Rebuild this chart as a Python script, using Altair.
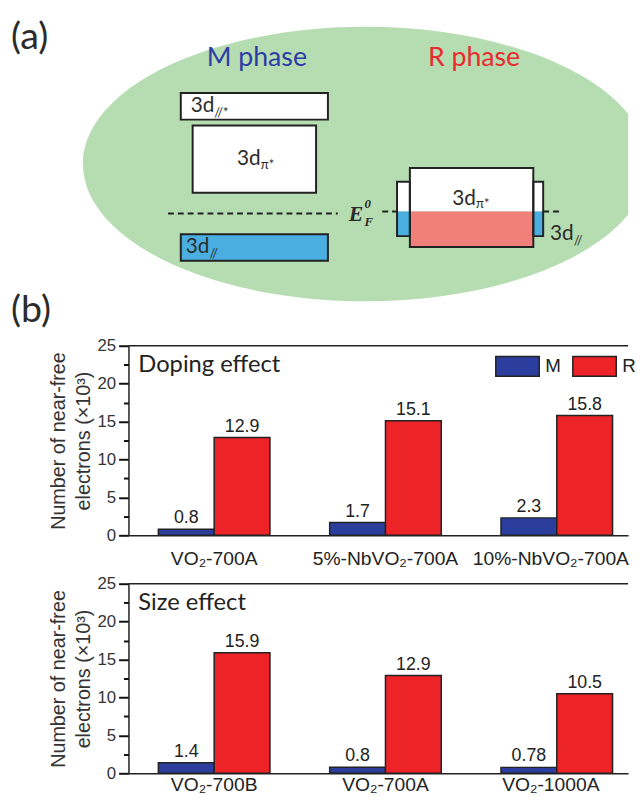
import altair as alt
import pandas as pd

# ---------------- panel (b) data ----------------
phases = ["M", "R"]
phase_colors = ["#2b3e9e", "#ec2327"]

doping_samples = ["VO₂-700A", "5%-NbVO₂-700A", "10%-NbVO₂-700A"]
doping_M = [0.8, 1.7, 2.3]
doping_R = [12.9, 15.1, 15.8]
doping_M_text = ["0.8", "1.7", "2.3"]
doping_R_text = ["12.9", "15.1", "15.8"]

size_samples = ["VO₂-700B", "VO₂-700A", "VO₂-1000A"]
size_M = [1.4, 0.8, 0.78]
size_R = [15.9, 12.9, 10.5]
size_M_text = ["1.4", "0.8", "0.78"]
size_R_text = ["15.9", "12.9", "10.5"]

y_major_ticks = [0, 5, 10, 15, 20, 25]
y_minor_ticks = [2.5, 7.5, 12.5, 17.5, 22.5]
y_title = ["Number of near-free", "electrons (×10³)"]

# ---------------- panel (a) schematic (page pixel layout) ----------------
ellipse_center = [370, 161]
ellipse_path = "M 266 -51 A 286 139 0 1 0 266 51 Z"
ellipse_color = "#b6dcb1"

box_x1 = [183, 195, 183, 402, 402, 540, 540, 415, 415]
box_x2 = [332, 320, 332, 415, 415, 550, 550, 540, 540]
box_y1 = [89, 122, 232, 179, 209, 179, 209, 165, 209]
box_y2 = [116, 190, 259, 209, 234, 209, 234, 209, 245]
box_fill = ["#ffffff", "#ffffff", "#4aafe0", "#ffffff", "#4aafe0",
            "#ffffff", "#4aafe0", "#ffffff", "#f2807a"]

outline_x1 = [183, 195, 183, 402, 540, 415]
outline_x2 = [332, 320, 332, 415, 550, 540]
outline_y1 = [89, 122, 232, 179, 179, 165]
outline_y2 = [116, 190, 259, 234, 234, 245]

dash_x1 = [170, 387, 550]
dash_x2 = [342, 402, 568]
dash_y = [211, 209, 209]

left_text = ["(a)", "(b)", "3d", "//*", "3d", "π*", "3d", "//", "3d", "π*", "3d", "//"]
left_x = [11, 11, 193, 217, 240, 264, 188, 212, 458, 482, 557, 581]
left_y = [44, 321, 108, 113, 162, 166, 251, 256, 202, 206, 238, 243]
left_size = [38, 38, 21, 13, 21, 13, 21, 13, 21, 13, 21, 13]

phase_text = ["M phase", "R phase"]
phase_x = [260, 480]
phase_y = [62, 62]
phase_text_colors = ["#2e3ca8", "#ea2a2e"]

ef_text = ["E", "F", "0"]
ef_x = [353, 369, 369]
ef_y = [219, 224, 206]
ef_size = [22, 13, 13]

PAGE_X = [8, 636]
PAGE_Y = [8, 330]
VIEW_W = 506
DIAG_H = PAGE_Y[1] - PAGE_Y[0]
INK = "#222222"

xs = alt.Scale(domain=PAGE_X, range=[-122, VIEW_W])
ys = alt.Scale(domain=PAGE_Y, range=[0, DIAG_H])

bg = alt.Chart(pd.DataFrame({"x1": [PAGE_X[0]], "x2": [PAGE_X[1]],
                             "y1": [PAGE_Y[0]], "y2": [PAGE_Y[1]]})).mark_rect(
    fill="white").encode(
    x=alt.X("x1:Q", scale=xs, axis=None), x2="x2:Q",
    y=alt.Y("y1:Q", scale=ys, axis=None), y2="y2:Q")

ell = alt.Chart(pd.DataFrame({"x": [ellipse_center[0]], "y": [ellipse_center[1]]})).mark_point(
    shape=ellipse_path, size=4, filled=True, fill=ellipse_color, opacity=1, strokeWidth=0).encode(
    x=alt.X("x:Q", scale=xs, axis=None), y=alt.Y("y:Q", scale=ys, axis=None))

fills = alt.Chart(pd.DataFrame({"x1": box_x1, "x2": box_x2, "y1": box_y1, "y2": box_y2,
                                "f": box_fill})).mark_rect(strokeWidth=0).encode(
    x=alt.X("x1:Q", scale=xs, axis=None), x2="x2:Q",
    y=alt.Y("y1:Q", scale=ys, axis=None), y2="y2:Q",
    fill=alt.Fill("f:N", scale=None))

outlines = alt.Chart(pd.DataFrame({"x1": outline_x1, "x2": outline_x2,
                                   "y1": outline_y1, "y2": outline_y2})).mark_rect(
    fillOpacity=0, stroke=INK, strokeWidth=2).encode(
    x=alt.X("x1:Q", scale=xs, axis=None), x2="x2:Q",
    y=alt.Y("y1:Q", scale=ys, axis=None), y2="y2:Q")

dashes = alt.Chart(pd.DataFrame({"x1": dash_x1, "x2": dash_x2, "y": dash_y})).mark_rule(
    stroke=INK, strokeWidth=2, strokeDash=[6, 4]).encode(
    x=alt.X("x1:Q", scale=xs, axis=None), x2="x2:Q",
    y=alt.Y("y:Q", scale=ys, axis=None))

ltexts = alt.Chart(pd.DataFrame({"t": left_text, "x": left_x, "y": left_y, "s": left_size})).mark_text(
    align="left", baseline="alphabetic", font="Lato", color="#2b2b2b").encode(
    x=alt.X("x:Q", scale=xs, axis=None), y=alt.Y("y:Q", scale=ys, axis=None),
    text="t:N", size=alt.Size("s:Q", scale=None))

ptexts = alt.Chart(pd.DataFrame({"t": phase_text, "x": phase_x, "y": phase_y,
                                 "c": phase_text_colors})).mark_text(
    align="center", baseline="alphabetic", font="Lato", fontSize=27).encode(
    x=alt.X("x:Q", scale=xs, axis=None), y=alt.Y("y:Q", scale=ys, axis=None),
    text="t:N", color=alt.Color("c:N", scale=None))

etexts = alt.Chart(pd.DataFrame({"t": ef_text, "x": ef_x, "y": ef_y, "s": ef_size})).mark_text(
    align="left", baseline="alphabetic", font="Liberation Serif", fontStyle="italic",
    fontWeight="bold", color="#2b2b2b").encode(
    x=alt.X("x:Q", scale=xs, axis=None), y=alt.Y("y:Q", scale=ys, axis=None),
    text="t:N", size=alt.Size("s:Q", scale=None))

diagram = alt.layer(bg, ell, fills, outlines, dashes, ltexts, ptexts, etexts).properties(
    width=VIEW_W, height=DIAG_H)


def bar_panel(samples, mv, rv, mt, rt, tag, height, label_pad, legend):
    rows = []
    for i, s in enumerate(samples):
        rows.append({"sample": s, "phase": "M", "value": mv[i], "label": mt[i]})
        rows.append({"sample": s, "phase": "R", "value": rv[i], "label": rt[i]})
    df = pd.DataFrame(rows)

    yscale = alt.Scale(domain=[0, 25], nice=False)
    last = samples[-1]
    x = alt.X("sample:N", sort=samples,
              scale=alt.Scale(paddingInner=0.3487, paddingOuter=0.1326, align=0.658),
              axis=alt.Axis(title=None, labelAngle=0, ticks=False, labelFontSize=19.5,
                            labelPadding=label_pad, labelColor=INK, domainColor=INK,
                            domainWidth=1.5, labelFont="Liberation Sans",
                            labelOffset={"condition": {"test": f"datum.value === '{last}'",
                                                       "value": -6}, "value": 0}))
    xo = alt.XOffset("phase:N", sort=phases, scale=alt.Scale(paddingInner=0, paddingOuter=0))
    y = alt.Y("value:Q", scale=yscale,
              axis=alt.Axis(orient="left", values=y_major_ticks, labelOverlap=False,
                            ticks=True, tickSize=10,
                            tickColor="#111111", tickWidth=2, tickOpacity=1,
                            domainColor=INK, domainWidth=1.5,
                            labelFontSize=17, labelColor="#333333", labelPadding=3,
                            labelFont="Liberation Sans", grid=False,
                            title=y_title, titleFontSize=20, titleFontWeight="normal",
                            titleColor="#333333", titlePadding=4, titleLineHeight=25,
                            titleFont="Liberation Sans"))

    if legend:
        leg = alt.Legend(title=None, orient="none", legendX=371, legendY=-2,
                         direction="horizontal",
                         symbolType="M -1 -0.4545 H 1 V 0.4545 H -1 Z", symbolSize=1936,
                         symbolStrokeColor=INK, symbolStrokeWidth=1.5, symbolOpacity=1,
                         labelFontSize=19, labelFont="Liberation Sans", labelColor=INK,
                         labelOffset=5, columnPadding=9, padding=0)
    else:
        leg = None
    color = alt.Color("phase:N", scale=alt.Scale(domain=phases, range=phase_colors), legend=leg)

    bars = alt.Chart(df).mark_bar(stroke=INK, strokeWidth=1.5, opacity=1).encode(
        x=x, xOffset=xo, y=y, color=color)
    vals = alt.Chart(df).mark_text(dy=-6, baseline="alphabetic", fontSize=18,
                                   font="Liberation Sans", color=INK).encode(
        x=x, xOffset=xo, y=alt.Y("value:Q", scale=yscale, axis=None), text="label:N")
    top = alt.Chart(pd.DataFrame({"v": [25]})).mark_rule(color=INK, strokeWidth=1.5).encode(
        y=alt.Y("v:Q", scale=yscale,
                axis=alt.Axis(orient="left", values=y_minor_ticks, labels=False, domain=False,
                              ticks=True, tickSize=5, tickColor="#111111", tickWidth=2,
                              tickOpacity=1, grid=False, title=None)))
    head = alt.Chart(pd.DataFrame({"t": [tag]})).mark_text(
        align="left", baseline="alphabetic", font="Lato", fontSize=24, color=INK).encode(
        x=alt.value(10), y=alt.value(27), text="t:N")
    return alt.layer(bars, vals, top, head).resolve_axis(y="independent").properties(
        width=VIEW_W, height=height)


chart1 = bar_panel(doping_samples, doping_M, doping_R, doping_M_text, doping_R_text,
                   "Doping effect", 192, 15, True)
chart2 = bar_panel(size_samples, size_M, size_R, size_M_text, size_R_text,
                   "Size effect", 192, 2, False)

chart = alt.vconcat(diagram, chart1, chart2, spacing=6).resolve_scale(
    color="independent").properties(padding=0).configure(
    font="Liberation Sans").configure_view(stroke="transparent", strokeWidth=0)

chart.save("out.html", embed_options={"renderer": "svg", "actions": False})
